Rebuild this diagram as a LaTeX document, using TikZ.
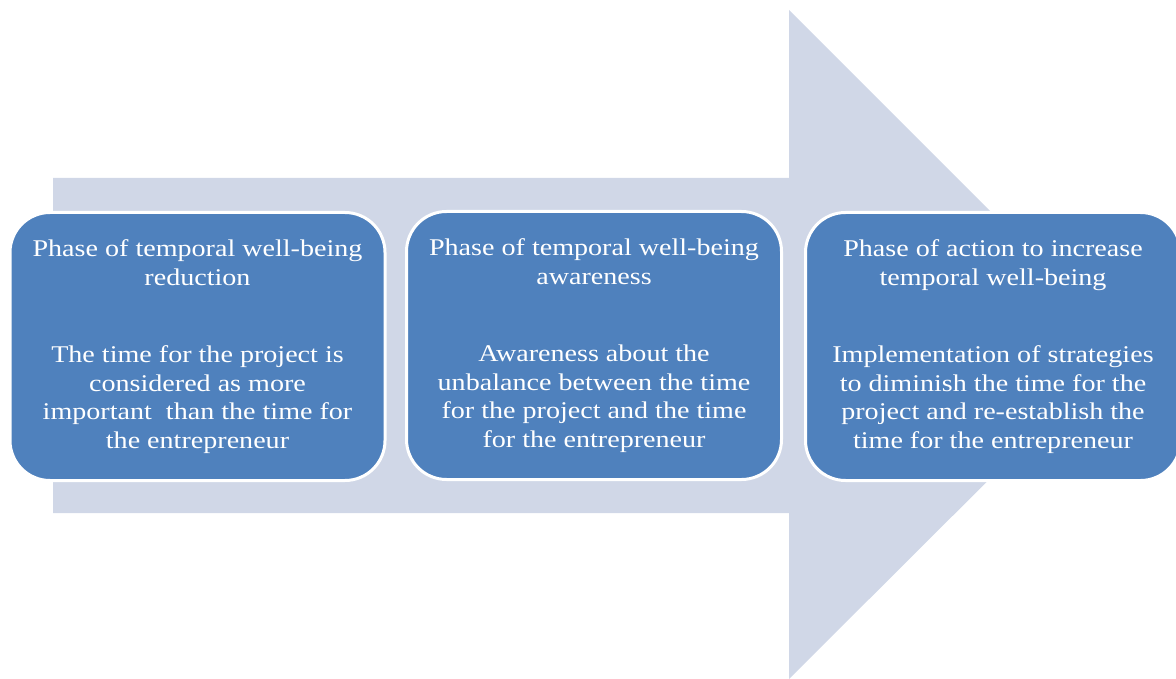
\documentclass[tikz,border=0pt]{standalone}
\usepackage{fontspec}
\setmainfont{Liberation Serif}[FakeStretch=1.17]
\definecolor{arrowcc}{RGB}{208, 215, 231}
\definecolor{boxcc}{RGB}{79, 129, 189}

\begin{document}
\begin{tikzpicture}[x=1pt, y=1pt,
  phase/.style={rounded corners=40pt, fill=boxcc, draw=white, line width=3pt,
    minimum width=375pt, minimum height=268pt, inner sep=0pt,
    align=center, text=white, font=\fontsize{24}{28.5}\selectfont}]
\useasboundingbox (0pt, 0pt) rectangle (1176pt, -679pt);
\fill [arrowcc] (53pt, -178pt) -- (789pt, -178pt) -- (789pt, -10pt) -- (1124pt, -345pt)
  -- (789pt, -679pt) -- (789pt, -513pt) -- (53pt, -513pt) -- cycle;
\node (reduction) [phase] at (197.5pt, -346.5pt) {Phase of temporal well-being\\reduction\\[49pt]
  The time for the project is\\considered as more\\important~ than the time for\\the entrepreneur};
\node (awareness) [phase] at (594pt, -345.5pt) {Phase of temporal well-being\\awareness\\[49pt]
  Awareness about the\\unbalance between the time\\for the project and the time\\for the entrepreneur};
\node (action) [phase] at (993pt, -346.5pt) {Phase of action to increase\\temporal well-being\\[49pt]
  Implementation of strategies\\to diminish the time for the\\project and re-establish the\\time for the entrepreneur};
\end{tikzpicture}
\end{document}
